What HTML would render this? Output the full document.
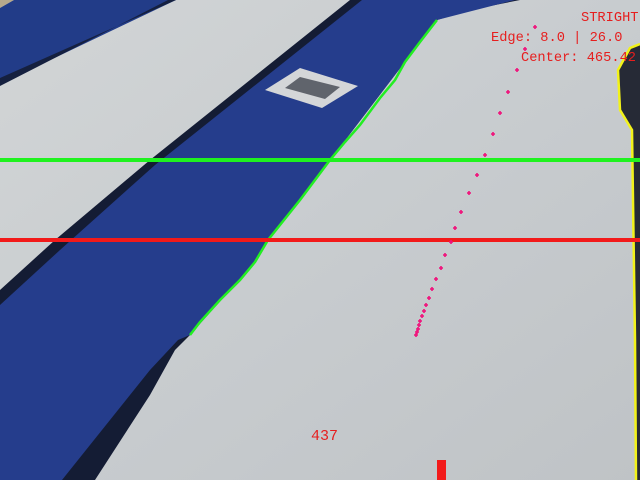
<!DOCTYPE html>
<html><head><meta charset="utf-8"><style>
html,body{margin:0;padding:0;width:640px;height:480px;overflow:hidden;background:#c9cdcf}
svg{display:block}
text{font-family:"Liberation Mono",monospace;fill:#e61e1e}
</style></head><body>
<svg width="640" height="480" viewBox="0 0 640 480">
<defs>
<linearGradient id="floor" x1="0" y1="0" x2="1" y2="1">
<stop offset="0" stop-color="#d2d5d6"/><stop offset="0.5" stop-color="#c8cccf"/><stop offset="1" stop-color="#bfc3c6"/>
</linearGradient>
</defs>
<rect width="640" height="480" fill="url(#floor)"/>
<polygon points="0,0 14,0 0,8" fill="#b7a98c"/>
<polygon points="0,8 14,0 176,0 0,84" fill="#223c88"/>
<polygon points="0,78 176,0 168,0 0,86" fill="#15203f"/>
<polygon points="350,0 520,0 470,10 437,20 330,160 268,240 255,262 190,335 175,350 150,395 95,480 0,480 0,290 55,240 150,160" fill="#141c34"/>
<polygon points="362,0 515,0 468,12 437,20 330,160 268,240 255,262 190,335 178,340 150,370 110,420 62,480 0,480 0,305 60,250 155,165" fill="#253d8c"/>
<polygon points="265,90 300,68 358,86 322,108" fill="#d4d6d8"/>
<polygon points="285,88 300,77 340,87 325,99" fill="#3a3d48" opacity="0.75"/>
<polygon points="618,70 630,48 640,44 640,480 636,480 635,340 632,130 620,110" fill="#262a36"/>
<polyline points="636,480 635,340 632,130 620,110 618,70 630,48 640,44" fill="none" stroke="#f2f21a" stroke-width="2.5"/>
<polyline points="437,20 420,42 405,62 395,80 380,98 360,125 345,142 330,160 300,200 268,240 255,262 240,280 220,300 200,322 190,335" fill="none" stroke="#22ee22" stroke-width="2.5"/>
<rect x="0" y="158" width="640" height="4" fill="#1ff21f"/>
<rect x="0" y="238" width="640" height="4" fill="#f21a1a"/>
<g id="dots"></g>
<text x="581" y="21" font-size="13.7">STRIGHT</text>
<text x="491" y="41" font-size="13.7">Edge: 8.0 | 26.0</text>
<text x="521" y="61" font-size="13.7">Center: 465.42</text>
<text x="311" y="440" font-size="15">437</text>
<rect x="437" y="460" width="9" height="20" fill="#f21a1a"/>
</svg>
<script>
const dotX=[535,525,517,508,500,493,485,477,469,461,455,451,445,441,436,432,429,426,424,422,420,419,418,417,416];
const dotY=[27,49,70,92,113,134,155,175,193,212,228,242,255,268,279,289,298,305,311,316,321,325,329,332,335];
const g=document.getElementById('dots');
const NS='http://www.w3.org/2000/svg';
for(let i=0;i<dotX.length;i++){
  const p=document.createElementNS(NS,'path');
  const x=dotX[i],y=dotY[i];
  p.setAttribute('d',`M${x-2},${y}H${x+2}M${x},${y-2}V${y+2}`);
  p.setAttribute('stroke','#f0107a');
  p.setAttribute('stroke-width','1.6');
  
  
  g.appendChild(p);
}
</script>
</body></html>
